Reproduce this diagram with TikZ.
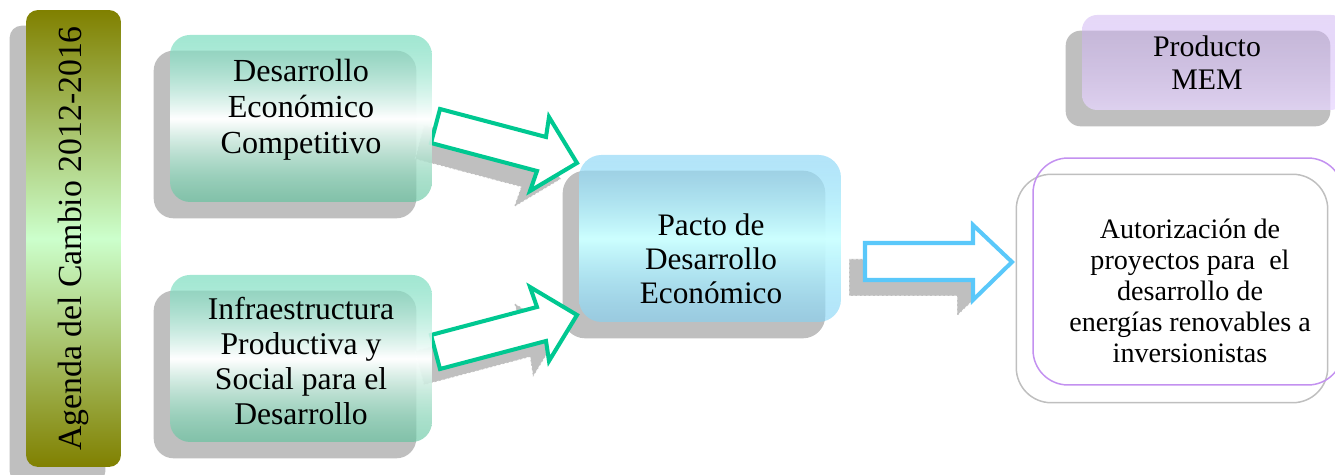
\documentclass[tikz,border=0pt]{standalone}
\usepackage{fontspec}
\setmainfont{Liberation Serif}
\usetikzlibrary{backgrounds,fadings}

\definecolor{shadowgray}{RGB}{191,191,191}
\definecolor{agendaolive}{RGB}{128,128,0}
\definecolor{agendagreen}{RGB}{204,255,204}
\definecolor{tealtop}{RGB}{100,215,180}
\definecolor{tealbot}{RGB}{90,195,155}
\definecolor{pactoblue}{RGB}{130,210,245}
\definecolor{pactocyan}{RGB}{205,255,255}
\definecolor{prodtop}{RGB}{200,170,240}
\definecolor{prodbot}{RGB}{232,215,255}
\definecolor{arrowgreen}{RGB}{0,200,145}
\definecolor{arrowblue}{RGB}{90,200,250}
\definecolor{autpurple}{RGB}{195,145,240}

\tikzfading[name=midsolid, top color=transparent!40, bottom color=transparent!40, middle color=transparent!0]
\tikzfading[name=prodfade, top color=transparent!55, bottom color=transparent!25]

\tikzset{
  mainbox/.style={rectangle, rounded corners=0.4cm, minimum width=5.24cm, minimum height=3.34cm, inner sep=0pt},
  tealbox/.style={mainbox, top color=tealtop, bottom color=tealbot, middle color=white, path fading=midsolid},
  boxtext/.style={align=center, text=black, inner sep=0pt},
  arrowshadow/.style={fill=shadowgray, draw=white, line width=0.4pt, dash pattern=on 1.5pt off 1pt},
}

\begin{document}
\begin{tikzpicture}[x=0.02cm, y=-0.02cm]
    \useasboundingbox (0,0) rectangle (1335,475);

    \node[rotate=90, rounded corners=0.24cm, minimum width=9.14cm, minimum height=1.9cm,
        top color=agendaolive, bottom color=agendaolive, middle color=agendagreen,
        font=\fontsize{19.2}{22}\selectfont] (agenda) at (73.5,238.5) {Agenda del Cambio 2012-2016};

    \filldraw[fill=white, draw=arrowgreen, line width=2.3pt]
        (440,109) -- (546,137) -- (549,117) -- (577,163) -- (530,191) -- (537,171) -- (431,143) -- cycle;
    \filldraw[fill=white, draw=arrowgreen, line width=2.3pt]
        (440,369) -- (546,341) -- (549,361) -- (577,315) -- (530,287) -- (537,307) -- (431,335) -- cycle;
    \filldraw[fill=white, draw=arrowblue, line width=2.3pt]
        (865,243) -- (973,243) -- (973,225) -- (1012,262) -- (973,300) -- (973,280) -- (865,280) -- cycle;

    \node[tealbox] (dec) at (301,118.5) {};
    \node[boxtext, font=\fontsize{18.3}{20.6}\selectfont] (decT) at (301,110) {Desarrollo\\Económico\\Competitivo};

    \node[tealbox] (inf) at (301,358.5) {};
    \node[boxtext, font=\fontsize{18}{20}\selectfont] (infT) at (301,361) {Infraestructura\\Productiva y\\Social para el\\Desarrollo};

    \node[mainbox, rounded corners=0.45cm, top color=pactoblue, bottom color=pactoblue, middle color=pactocyan, path fading=midsolid] (pacto) at (710,238.5) {};
    \node[boxtext, font=\fontsize{17.8}{19.4}\selectfont] (pactoT) at (711,259) {Pacto de\\Desarrollo\\Económico};

    \node[rectangle, rounded corners=0.3cm, minimum width=5.28cm, minimum height=1.9cm,
        top color=prodtop, bottom color=prodbot, path fading=prodfade] (prod) at (1214,62.5) {};
    \node[boxtext, font=\fontsize{17}{18.7}\selectfont] (prodT) at (1207,63) {Producto\\MEM};

    \node[rectangle, rounded corners=0.7cm, minimum width=6.2cm, minimum height=4.54cm,
        draw=autpurple, line width=0.85pt] (aut) at (1188,271.5) {};
    \node[boxtext, font=\fontsize{16}{17.6}\selectfont] (autT) at (1190,291)
        {Autorización de\\proyectos para\ \ el\\desarrollo de\\energías renovables a\\inversionistas};

    \begin{scope}[on background layer]
        \foreach \n/\r in {agenda/0.24,dec/0.4,inf/0.4,pacto/0.45,prod/0.3}
            \fill[shadowgray, rounded corners=\r cm] ([shift={(-16,16)}]\n.south west) rectangle ([shift={(-16,16)}]\n.north east);
        \draw[shadowgray, line width=0.85pt, rounded corners=0.7cm]
            ([shift={(-16,17)}]aut.south west) rectangle ([shift={(-16,17)}]aut.north east);
        \begin{scope}[shift={(-16,16)}]
            \filldraw[arrowshadow]
                (440,109) -- (546,137) -- (549,117) -- (577,163) -- (530,191) -- (537,171) -- (431,143) -- cycle;
            \filldraw[arrowshadow]
                (440,369) -- (546,341) -- (549,361) -- (577,315) -- (530,287) -- (537,307) -- (431,335) -- cycle;
            \filldraw[arrowshadow]
                (865,243) -- (973,243) -- (973,225) -- (1012,262) -- (973,300) -- (973,280) -- (865,280) -- cycle;
        \end{scope}
    \end{scope}
\end{tikzpicture}
\end{document}
